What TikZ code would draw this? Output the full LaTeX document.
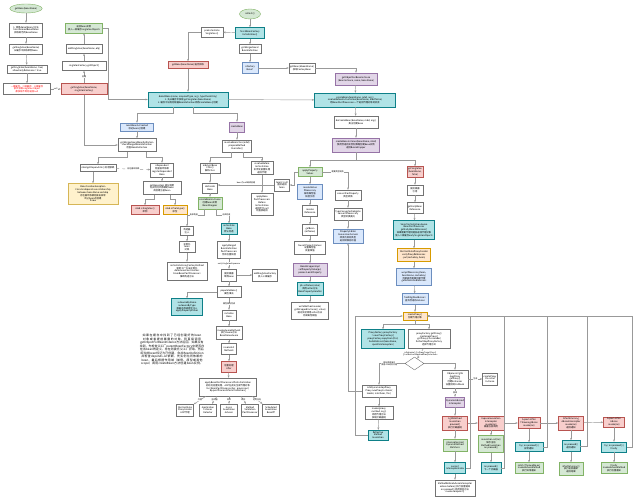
\documentclass[tikz,border=0pt]{standalone}
\usepackage{fontspec}
\usepackage{xcolor}
\usetikzlibrary{shapes.geometric,arrows.meta}
\newfontfamily\cjk{Noto Sans CJK SC}
\XeTeXlinebreaklocale "zh"
\XeTeXlinebreakskip = 0pt plus 1pt
\definecolor{grfill}{HTML}{D5E8D4}\definecolor{grline}{HTML}{82B366}
\definecolor{cyfill}{HTML}{B0E3E6}\definecolor{cyline}{HTML}{0E8088}
\definecolor{blfill}{HTML}{DAE8FC}\definecolor{blline}{HTML}{6C8EBF}
\definecolor{rdfill}{HTML}{F8CECC}\definecolor{rdline}{HTML}{B85450}
\definecolor{pufill}{HTML}{E1D5E7}\definecolor{puline}{HTML}{9673A6}
\definecolor{yefill}{HTML}{FFF2CC}\definecolor{yeline}{HTML}{D6B656}
\definecolor{orfill}{HTML}{FFE6CC}\definecolor{orline}{HTML}{D79B00}
\begin{document}
\begin{tikzpicture}[x=1pt, y=-1pt,
  every node/.style={font=\cjk\fontsize{2.3}{2.8}\selectfont, align=center, inner sep=0.4pt},
  box/.style={draw=black!55, line width=0.4pt, fill=white},
  grbox/.style={box, draw=grline, fill=grfill},
  cybox/.style={box, draw=cyline, fill=cyfill},
  blbox/.style={box, draw=blline, fill=blfill},
  rdbox/.style={box, draw=rdline, fill=rdfill},
  pubox/.style={box, draw=puline, fill=pufill},
  yebox/.style={box, draw=yeline, fill=yefill},
  orbox/.style={box, draw=orline, fill=orfill},
  sz/.style 2 args={minimum width=#1pt, minimum height=#2pt},
  lbl/.style={fill=white, inner sep=0.3pt, font=\cjk\fontsize{2}{2.5}\selectfont},
  conn/.style={draw=black!40, line width=0.45pt, -{Stealth[length=2.4pt,width=1.9pt]}}]
\fill[white] (0,0) rectangle (635,500);
\useasboundingbox (0,0) rectangle (635,500);

% left column
\node[grbox, ellipse, sz={32}{9}] (getbean) at (26,8.5) {getBean(beanName)};
\node[box, sz={33}{14}] (dogetbean) at (26,30) {1. 调用doGetBean()方法\\transformedBeanName\\获取规范的beanName};
\node[box, sz={33}{10}] (getsingleton) at (26,49) {getSingleton(beanName)\\从缓存中获取单例bean};
\node[box, sz={40}{8}] (earlyref) at (27,69) {getSingleton(beanName, true)\\allowEarlyReference = true};
\node[box, sz={47}{11}, text=red] (caches) at (27,89) {一级缓存、二级缓存、三级缓存\\依次获取singletonObject\\都获取不到则返回null};
\node[rdbox, sz={46}{11}] (singletonfactory) at (84,89) {getSingleton(beanName,\\singletonFactory)};
\node[box, sz={44}{9}] (getobject) at (84,66) {singletonFactory.getObject()};
\node[box, sz={36}{9}] (addsingleton) at (84,49) {addSingleton(beanName, obj)};
\node[grbox, sz={37}{10}] (ret) at (84,28) {返回bean实例\\放入一级缓存singletonObjects};

% top
\node[grbox, ellipse, sz={21}{10}] (refresh) at (250,14) {refresh()};
\node[cybox, sz={29}{11}] (finishinit) at (250,33) {finishBeanFactory\\Initialization()};
\node[box, sz={22}{10}] (preinst) at (212,32) {preInstantiate\\Singletons()};
\node[rdbox, sz={40}{7}] (getbean2) at (188,65) {getBean(beanName) 遍历获取};
\node[cybox, sz={80}{15}] (dogetbean2) at (188,99.5) {doGetBean(name, requiredType, args, typeCheckOnly)\\1. 先从缓存中获取 getSingleton(beanName)\\2. 缓存中没有则根据BeanDefinition调用createBean()创建};
\node[box, sz={22}{9}] (merged) at (250,49) {getMergedLocal\\BeanDefinition};
\node[blbox, sz={16}{11}] (isfactory) at (250,68) {isFactory\\Bean?};
\node[box, sz={26}{10}] (factoryprefix) at (302,68) {getBean(\&beanName)\\获取FactoryBean};
\node[pubox, sz={42}{12}] (objforbean) at (356,79) {getObjectForBeanInstance\\(beanInstance, name, beanName)};
\node[cybox, sz={81}{14}] (createbean) at (355,100) {createBean(beanName, mbd, args)\\resolveBeforeInstantiation(beanName, mbdToUse)\\给BeanPostProcessors一个返回代理对象的机会};
\node[box, sz={44}{12}] (docreate) at (356,122) {doCreateBean(beanName, mbd, args)\\真正创建bean};
\node[pubox, sz={47}{14}] (instance) at (356,145) {createBeanInstance(beanName, mbd)\\使用合适的实例化策略创建bean实例\\返回BeanWrapper};

% depends-on
\node[blbox, sz={33}{8}] (markcreated) at (137,127) {markBeanAsCreated\\标记bean已创建};
\node[box, sz={38}{13}] (checkmerged) at (137,145) {getMergedLocalBeanDefinition\\checkMergedBeanDefinition\\检查BeanDefinition};
\node[box, sz={36}{7}] (dependson) at (98,168) {mbd.getDependsOn() 处理依赖};
\node[box, sz={23}{14}] (isdependent) at (162,170) {isDependent\\检查循环依赖\\registerDependent\\Bean};
\node[yebox, sz={50}{21}] (circular) at (93,194) {BeanCreationException\\Circular depends-on relationship\\between beanName and dep\\存在循环依赖则抛出异常\\终止bean的创建\\throw};
\node[box, sz={38}{13}] (getdep) at (162,188) {getBean(dep) 递归调用\\先实例化所依赖的bean\\再创建当前bean};
\node[rdbox, sz={28}{9}] (single) at (145,210) {mbd.isSingleton()\\单例};
\node[orbox, sz={24}{9}] (proto) at (175,210) {mbd.isPrototype()\\原型};

% createBean
\node[pubox, sz={15}{10}] (createbean2) at (237,127) {createBean};
\node[box, sz={29}{12}] (resolveclass) at (237,146) {resolveBeanClass(mbd)\\prepareMethod\\Overrides()};
\node[box, sz={20}{10}] (beanclass) at (210,168) {mbd.getBean\\Class()\\解析class};
\node[box, sz={22}{13}] (beforeinst) at (262,168) {resolveBefore\\Instantiation\\实例化前置处理\\返回代理};
\node[box, sz={15}{10}] (docreate2) at (210,188) {doCreate\\Bean};
\node[grbox, sz={24}{12}] (wrapper) at (210,203) {createBeanInstance\\创建bean实例\\BeanWrapper};
\node[box, sz={22}{22}] (applybefore) at (262,204) {applyBean\\PostProcessors\\Before\\Instantiation\\返回不为null\\则直接返回};
\node[box, sz={15}{12}] (notnull) at (282,185) {bean!=null\\直接返回\\bean};
\node[box, sz={13}{9}] (autowirector) at (187,231) {构造器\\注入};
\node[box, sz={16}{11}] (ctorinst) at (187,247) {实例化\\bean\\对象};
\node[box, sz={40}{18}] (factorymethod) at (187,271) {instantiateUsingFactoryMethod\\使用工厂方法实例化\\determineConstructors\\FromBeanPostProcessors\\推断构造方法};
\node[cybox, sz={16}{11}] (instbean) at (229,229) {instantiate\\Bean\\默认构造};
\node[box, sz={23}{17}] (mergedpp) at (229,250) {applyMerged\\BeanDefinition\\PostProcessors\\合并后置处理};
\node[box, sz={15}{12}] (early) at (229,275) {提前暴露\\单例bean};
\node[box, sz={25}{12}] (addfactory) at (265,275) {addSingletonFactory\\放入三级缓存};
\node[box, sz={24}{11}] (populate) at (229,292) {populateBean()\\属性填充};
\node[cybox, sz={31}{17}] (autowire) at (187,307) {autowireByName\\autowireByType\\根据名称或类型注入\\applyPropertyValues};
\node[box, sz={14}{10}] (initbean) at (229,315) {initialize\\Bean};
\node[box, sz={26}{13}] (aware) at (229,333) {invokeAwareMethods\\执行Aware方法\\BeanNameAware};
\node[box, sz={15}{11}] (initmethods) at (229,349) {invokeInit\\Methods};
\node[rdbox, sz={15}{11}] (afterinit) at (229,367) {后置处理\\After};
\node[box, sz={57}{18}] (postprocess) at (228,387) {applyBeanPostProcessorsAfterInitialization\\初始化后置处理，AOP在此处生成代理对象\\for (BeanPostProcessor bp : processors)\\bp.postProcessAfterInitialization()};
\node[box, sz={17}{12}] (pp1) at (185,410) {AbstractAuto\\ProxyCreator\\AOP代理};
\node[box, sz={17}{12}] (pp2) at (208,410) {Application\\Listener\\Detector};
\node[box, sz={17}{12}] (pp3) at (229,410) {Async\\Annotation\\Advisor};
\node[box, sz={17}{12}] (pp4) at (250,410) {Method\\Validation\\PostProcessor};
\node[box, sz={17}{12}] (pp5) at (271,410) {Scheduled\\Annotation\\BeanPP};
\node[text width=65pt, font=\cjk\fontsize{2.9}{3.5}\selectfont] (note) at (172,350) {如果在缓存中找到了已经创建好的bean对象或者提前暴露的对象，则直接调用getObjectForBeanInstance方法返回。如果没有找到，先检查父工厂parentBeanFactory中是否存在该bean的定义，存在则委托父工厂获取。然后将当前bean标记为已创建，合并BeanDefinition并检查depends-on依赖，先实例化所依赖的bean，最后根据作用域（单例、原型或其他scope）调用createBean方法创建bean实例。};

% populate
\node[grbox, sz={24}{9}] (applypv) at (310,172) {applyProperty\\Values};
\node[blbox, sz={25}{15}] (resolvevalue) at (310,192) {resolveValue\\IfNecessary\\解析属性值\\处理引用};
\node[box, sz={15}{11}] (resolveref) at (310,211) {resolve\\Reference};
\node[box, sz={15}{11}] (getref) at (310,230) {getBean\\(refName)};
\node[box, sz={31}{13}] (setpv) at (310,248) {bw.setPropertyValues\\设置属性值\\批量赋值};
\node[pubox, sz={34}{13}] (setvalue) at (310,270) {BeanWrapperImpl\\setPropertyValue(pv)\\processLocalProperty};
\node[cybox, sz={26}{13}] (phset) at (310,289) {ph.setValue(value)\\调用setter方法\\BeanPropertyHandler};
\node[box, sz={37}{17}] (invoke) at (310,311) {writeMethod.invoke(\\getWrappedInstance(), value)\\通过反射调用setter方法\\完成属性赋值};
\node[box, sz={26}{10}] (convert) at (348,195) {convertForProperty\\类型转换};
\node[box, sz={28}{12}] (typeconv) at (348,214) {TypeConverterDelegate\\convertIfNecessary\\类型转换委托};
\node[blbox, sz={30}{14}] (editor) at (348,236) {PropertyEditor\\ConversionService\\转换为目标类型\\返回转换后的值};

% early reference and proxy
\node[rdbox, sz={16}{11}] (earlysingleton) at (415,172) {getSingleton\\(beanName,\\false)};
\node[box, sz={16}{10}] (earlyexpose) at (415,190) {提前暴露\\引用};
\node[box, sz={16}{11}] (earlyref2) at (415,208) {getEarlyBean\\Reference};
\node[cybox, sz={41}{19}] (smart) at (414,230) {SmartInstantiationAware\\BeanPostProcessor\\getEarlyBeanReference()\\如果需要代理则提前返回代理对象\\放入二级缓存earlySingletonObjects};
\node[orbox, sz={33}{13}] (autoproxy) at (414,255) {AbstractAutoProxyCreator\\earlyProxyReferences\\.put(cacheKey, bean)};
\node[blbox, sz={35}{17}] (wrapif) at (414,277) {wrapIfNecessary(bean,\\beanName, cacheKey)\\判断是否需要创建代理\\getAdvicesAndAdvisors};
\node[blbox, sz={26}{11}] (advisors) at (415,299) {findEligibleAdvisors\\查找合适的Advisor};
\node[orbox, sz={24}{8}] (createproxy) at (415,316) {createProxy()\\创建代理对象};
\node[cybox, sz={43}{19}] (proxyfactory) at (383,339) {ProxyFactory proxyFactory\\= new ProxyFactory()\\proxyFactory.copyFrom(this)\\buildAdvisors(beanName,\\specificInterceptors)};
\node[box, sz={42}{19}] (getproxy) at (429,339) {proxyFactory.getProxy()\\createAopProxy()\\.getProxy(classLoader)\\DefaultAopProxyFactory\\选择代理方式};
\node[box, diamond, sz={19}{13}, inner sep=0pt] (choose) at (414.5,363.5) {};
\node[box, sz={34}{12}] (jdkproxy) at (379,391) {JdkDynamicAopProxy\\Proxy.newProxyInstance(\\loader, interfaces, this)};
\node[box, sz={28}{13}] (jdkinvoke) at (379,413) {invoke(proxy,\\method, args)\\调用代理方法\\获取拦截器链};
\node[cybox, sz={20}{10}] (reflective) at (378,435) {Reflective\\Method\\Invocation};
\node[box, sz={26}{18}] (cglib) at (455,379) {ObjenesisCglib\\AopProxy\\getProxy()\\创建Enhancer\\设置回调Callback};
\node[box, sz={15}{12}] (createclass) at (490,379) {createProxy\\ClassAnd\\Instance};
\node[pubox, sz={18}{10}] (dynamicadv) at (455,402) {DynamicAdvised\\Interceptor};
\node[rdbox, sz={25}{14}] (cglibinv) at (455,423) {CglibMethod\\Invocation\\proceed()\\执行拦截器链};
\node[rdbox, sz={26}{14}] (expose) at (491,423) {ExposeInvocation\\Interceptor\\invoke(mi)\\暴露当前调用};
\node[rdbox, sz={22}{11}] (throwing) at (529,423) {AspectJAfter\\ThrowingAdvice\\invoke(mi)};
\node[rdbox, sz={25}{14}] (returning) at (571,423) {AfterReturning\\AdviceInterceptor\\invoke(mi)\\返回通知};
\node[rdbox, sz={21}{10}] (after) at (614,422) {AspectJAfter\\Advice\\invoke(mi)};
\node[grbox, sz={24}{12}] (matchers) at (455,445) {interceptorsAnd\\DynamicMethod\\Matchers};
\node[grbox, sz={25}{17}] (setmi) at (491,444) {invocation.set(mi)\\保存当前\\MethodInvocation\\mi.proceed()};
\node[cybox, sz={28}{9}] (throwtry) at (529,447) {try \{ mi.proceed() \}\\异常通知};
\node[cybox, sz={18}{11}] (rettry) at (571,446) {mi.proceed()\\返回通知};
\node[cybox, sz={25}{10}] (aftertry) at (614,447) {try \{ mi.proceed() \}\\finally};
\node[cybox, sz={21}{11}] (index) at (455,468) {current\\InterceptorIndex};
\node[cybox, sz={20}{11}] (next) at (491,468) {mi.proceed()\\下一个拦截器};
\node[grbox, sz={28}{11}] (throwadv) at (529,468) {catch (Throwable ex)\\invokeAdviceMethod\\执行异常通知};
\node[grbox, sz={24}{13}] (retadv) at (571,469) {afterReturning()\\执行返回通知\\返回结果};
\node[grbox, sz={26}{11}] (afteradv) at (614,468) {finally\\invokeAdviceMethod\\执行后置通知};
\node[box, sz={40}{16}] (beforeadv) at (455,488) {MethodBeforeAdviceInterceptor\\advice.before() 执行前置通知\\mi.proceed() 调用目标方法\\invokeJoinpoint()};

% connectors
\draw[conn] (getbean) -- (dogetbean);
\draw[conn] (dogetbean) -- (getsingleton);
\draw[conn] (getsingleton) -- (earlyref);
\draw[conn] (earlyref) -- (caches);
\draw[conn] (caches) -- node[lbl]{null} (singletonfactory);
\draw[conn] (singletonfactory) -- node[lbl]{创建} (getobject);
\draw[conn] (getobject) -- (addsingleton);
\draw[conn] (addsingleton) -- (ret);
\draw[conn] (ret) -- ++(24,0) |- (dogetbean2);
\draw[conn] (singletonfactory) |- (checkmerged);

\draw[conn] (refresh) -- (finishinit);
\draw[conn] (finishinit) -- (preinst);
\draw[conn] (preinst) -| (getbean2);
\draw[conn] (getbean2) -- (dogetbean2);
\draw[conn] (finishinit) -- (merged);
\draw[conn] (merged) -- (isfactory);
\draw[conn] (isfactory) -- (factoryprefix);
\draw[conn] (factoryprefix) -| (objforbean);
\draw[conn] (objforbean) -- (createbean);
\draw[conn] (dogetbean2) -- (createbean);
\draw[conn] (createbean) -- (docreate);
\draw[conn] (docreate) -- (instance);

\draw[conn] ([xshift=-15pt]dogetbean2.south) -- ++(0,6) -| (markcreated);
\draw[conn] ([xshift=5pt]dogetbean2.south) -- ++(0,6) -| (createbean2);
\draw[conn] (markcreated) -- (checkmerged);
\draw[conn] ([xshift=-10pt]checkmerged.south) -- ++(0,6) -| (dependson);
\draw[conn] ([xshift=9pt]checkmerged.south) -- ++(0,6) -| (isdependent);
\draw[conn, dashed] (dependson) -- node[lbl]{存在循环依赖} (isdependent);
\draw[conn] (dependson.south -| circular) -- (circular);
\draw[conn] (isdependent) -- (getdep);
\draw[conn] ([xshift=-8pt]getdep.south) -- ++(0,5) -| (single);
\draw[conn] ([xshift=8pt]getdep.south) -- ++(0,5) -| (proto);

\draw[conn] (createbean2) -- (resolveclass);
\draw[conn] ([xshift=-6pt]resolveclass.south) -- ++(0,5) -| (beanclass);
\draw[conn] ([xshift=6pt]resolveclass.south) -- ++(0,5) -| (beforeinst);
\draw[conn] (beanclass) -- (docreate2);
\draw[conn] (docreate2) -- (wrapper);
\draw[conn] (beforeinst) -- (applybefore);
\draw[conn] (notnull) -- node[lbl, above=0.4pt]{bean为null继续创建} (notnull -| docreate2.east);
\draw[conn] ([xshift=-6pt]wrapper.south) -- ++(0,6) -| node[lbl, pos=0.3]{有参构造} (autowirector);
\draw[conn] ([xshift=6pt]wrapper.south) -- ++(0,6) -| node[lbl, pos=0.4]{无参构造} (instbean);
\draw[conn] (autowirector) -- (ctorinst);
\draw[conn] (ctorinst) -- (factorymethod);
\draw[conn] (instbean) -- (mergedpp);
\draw[conn] (mergedpp) -- node[lbl]{earlySingletonExposure} (early);
\draw[conn] (early) -- (addfactory);
\draw[conn] (early) -- (populate);
\draw[conn] (populate) -| (autowire);
\draw[conn] (populate) -- node[lbl]{属性填充完成} (initbean);
\draw[conn] (initbean) -- (aware);
\draw[conn] (aware) -- (initmethods);
\draw[conn] (initmethods) -- (afterinit);
\draw[conn] (afterinit) -- (postprocess);
\draw[conn] ([xshift=-22pt]postprocess.south) -- node[lbl]{代理} (pp1);
\draw[conn] ([xshift=-11pt]postprocess.south) -- node[lbl]{监听器} (pp2);
\draw[conn] ([xshift=1pt]postprocess.south) -- node[lbl]{异步} (pp3);
\draw[conn] ([xshift=13pt]postprocess.south) -- node[lbl]{校验} (pp4);
\draw[conn] ([xshift=24pt]postprocess.south) -- node[lbl]{定时任务} (pp5);

\draw[conn] (instance) -- ++(0,15) -| (applypv);
\draw[conn] (instance) -- ++(0,15) -| (earlysingleton);
\draw[conn] (applypv) -- (resolvevalue);
\draw[conn] (resolvevalue) -- (resolveref);
\draw[conn] (resolveref) -- (getref);
\draw[conn] (getref) -- (setpv);
\draw[conn] (setpv) -- (setvalue);
\draw[conn] (setvalue) -- (phset);
\draw[conn] (phset) -- (invoke);
\draw[conn] (applypv) -| node[lbl, pos=0.3]{需要类型转换} (convert);
\draw[conn] (applypv.west) -- ++(-4,0) |- (notnull);
\draw[conn] (convert) -- (typeconv);
\draw[conn] (typeconv) -- (editor);

\draw[conn] (earlysingleton) -- (earlyexpose);
\draw[conn] (earlyexpose) -- (earlyref2);
\draw[conn] (earlyref2) -- (smart);
\draw[conn] (smart) -- (autoproxy);
\draw[conn] (autoproxy) -- (wrapif);
\draw[conn] (wrapif) -- (advisors);
\draw[conn] (advisors) -- (createproxy);
\draw[conn] (createproxy) -- ++(0,8) -| (proxyfactory);
\draw[conn] (createproxy) -- ++(0,8) -| (getproxy);
\draw[conn] (getproxy) -- node[lbl]{isOptimize() || isProxyTargetClass()\\|| hasNoUserSuppliedProxyInterfaces} (choose);
\draw[conn] (choose) -| node[lbl, pos=0.3]{目标类是接口\\使用JDK动态代理} (jdkproxy);
\draw[conn] (choose) -| (cglib);
\draw[conn] (jdkproxy) -- (jdkinvoke);
\draw[conn] (jdkinvoke) -- (reflective);
\draw[conn] (reflective.west) -- ++(-13,0) |- (createproxy);
\draw[conn] (jdkproxy.west) -| (editor);
\draw[conn] (cglib) -- node[lbl]{生成} (createclass);
\draw[conn] (cglib) -- node[lbl]{回调} (dynamicadv);
\draw[conn] (dynamicadv) -- (cglibinv);
\draw[conn] (cglibinv) -- (expose);
\draw[conn] (expose) -- (throwing);
\draw[conn] (throwing) -- (returning);
\draw[conn] (returning) -- (after);
\draw[conn] (cglibinv) -- (matchers);
\draw[conn] (matchers) -- (index);
\draw[conn] (index) -- (beforeadv);
\draw[conn] (expose) -- (setmi);
\draw[conn] (setmi) -- (next);
\draw[conn] (throwing) -- (throwtry);
\draw[conn] (throwtry) -- (throwadv);
\draw[conn] (returning) -- (rettry);
\draw[conn] (rettry) -- (retadv);
\draw[conn] (after) -- (aftertry);
\draw[conn] (aftertry) -- (afteradv);
\draw[conn] (index.east) -- ++(4.5,0) |- (createproxy.east);
\draw[conn] (next.east) -- ++(3,0) |- (createproxy.east);
\draw[conn] (throwtry.east) -- ++(4,0) |- (createproxy.east);
\draw[conn] (rettry.east) -- ++(7,0) |- (createproxy.east);
\draw[conn] (aftertry.east) -- ++(5.5,0) |- (createproxy.east);
\end{tikzpicture}
\end{document}
